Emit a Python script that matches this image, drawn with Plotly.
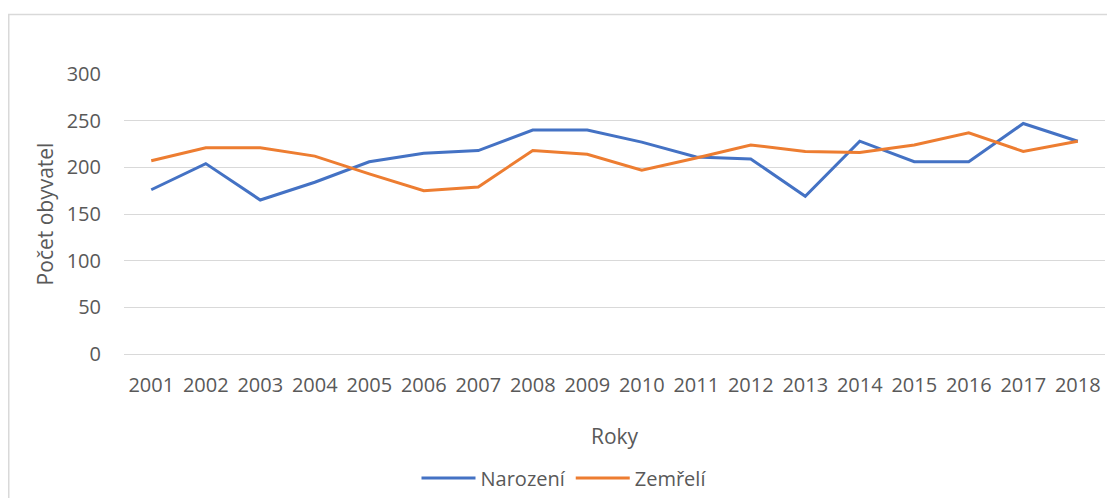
import plotly.graph_objects as go

years = [str(y) for y in range(2001, 2019)]
narozeni = [176, 204, 165, 184, 206, 215, 218, 240, 240, 227, 211, 209, 169, 228, 206, 206, 247, 228]
zemreli = [207, 221, 221, 212, 193, 175, 179, 218, 214, 197, 210, 224, 217, 216, 224, 237, 217, 228]
y_ticks = [0, 50, 100, 150, 200, 250, 300]

FONT = "Open Sans"
TXT = "#595959"

# page body has an 8px margin; the figure is placed so that it lines up with the window
W, H = 1099, 490
ML, MR, MT, MB = 116, 2, 66, 144
PW, PH = W - ML - MR, H - MT - MB

fig = go.Figure()
fig.add_trace(go.Scatter(x=years, y=narozeni, mode="lines", name="Narození",
                         line=dict(color="#4472C4", width=3)))
fig.add_trace(go.Scatter(x=years, y=zemreli, mode="lines", name="Zemřelí",
                         line=dict(color="#ED7D31", width=3)))

fig.update_layout(
    width=W, height=H,
    margin=dict(l=ML, r=MR, t=MT, b=MB, autoexpand=False),
    paper_bgcolor="white", plot_bgcolor="white",
    font=dict(family=FONT, color=TXT, size=20),
    showlegend=True,
    legend=dict(orientation="h", x=(556 - ML) / PW, xanchor="center",
                yref="container", y=(H - 470) / H, yanchor="middle",
                itemwidth=54, font=dict(size=20, color=TXT), bgcolor="rgba(0,0,0,0)"),
    xaxis=dict(type="category", range=[-0.5, 17.5], showgrid=False, zeroline=False,
               showline=False, automargin=False,
               ticks="", ticklabelstandoff=17, tickfont=dict(size=20, color=TXT),
               title=dict(text="Roky", font=dict(size=21, color=TXT), standoff=32)),
    yaxis=dict(range=[0, 300], tickvals=y_ticks, showgrid=True, gridcolor="#D9D9D9",
               gridwidth=1, zeroline=True, zerolinecolor="#D9D9D9", zerolinewidth=1,
               showline=False, ticks="", ticklabelstandoff=22, automargin=False,
               tickfont=dict(size=20, color=TXT),
               title=dict(text="Počet obyvatel", font=dict(size=21, color=TXT), standoff=7)),
    shapes=[dict(type="rect", xref="paper", yref="paper",
                 x0=(0.75 - ML) / PW, x1=1.05, y0=-0.7, y1=(PH + MT - 6.5) / PH,
                 line=dict(color="#D9D9D9", width=1.5), fillcolor="rgba(0,0,0,0)", layer="below")],
)

fig.write_html("out.html")
